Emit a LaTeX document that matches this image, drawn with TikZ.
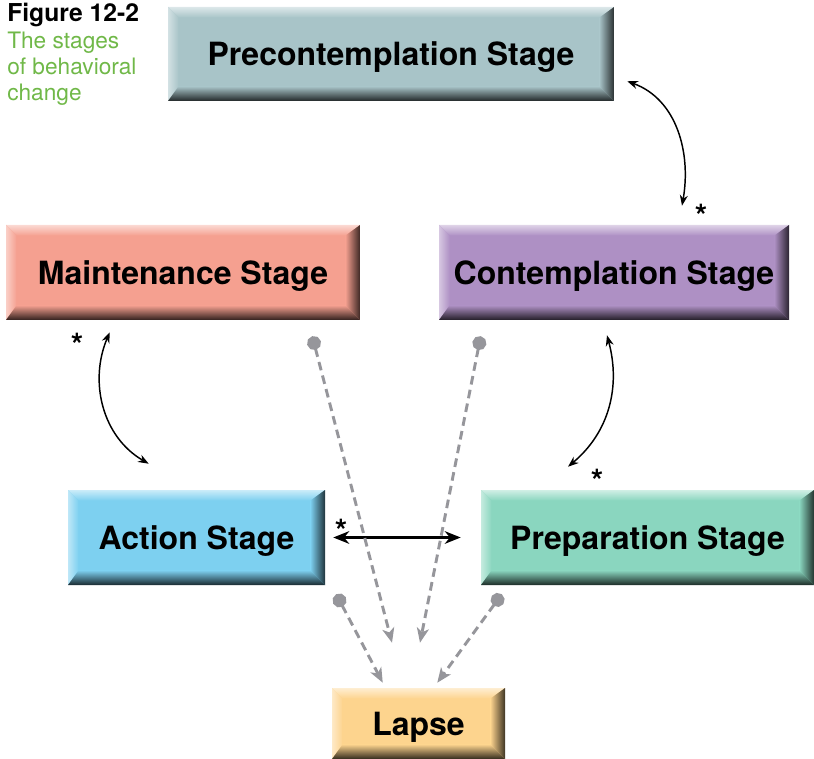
\documentclass[tikz,border=0pt]{standalone}
\usepackage{fontspec}
\setmainfont{TeX Gyre Heros}
\usetikzlibrary{arrows.meta}

\definecolor{precol}{HTML}{A8C4C8}
\definecolor{maintcol}{HTML}{F5A090}
\definecolor{contcol}{HTML}{AE90C4}
\definecolor{actcol}{HTML}{7DD0F0}
\definecolor{prepcol}{HTML}{8AD6BF}
\definecolor{lapsecol}{HTML}{FDD48E}
\definecolor{capgreen}{RGB}{112,184,72}
\definecolor{dashgray}{RGB}{150,150,155}

% bevelled edges of a stage box
\newcommand{\stagebevel}[1]{%
  \coordinate (bnw) at (path picture bounding box.north west);
  \coordinate (bne) at (path picture bounding box.north east);
  \coordinate (bsw) at (path picture bounding box.south west);
  \coordinate (bse) at (path picture bounding box.south east);
  \coordinate (inw) at ([shift={(8pt,-8pt)}]bnw);
  \coordinate (ine) at ([shift={(-11pt,-8pt)}]bne);
  \coordinate (isw) at ([shift={(8pt,11pt)}]bsw);
  \coordinate (ise) at ([shift={(-11pt,11pt)}]bse);
  \shade[top color=#1!40!white, bottom color=#1] (bnw) -- (bne) -- (ine) -- (inw) -- cycle;
  \shade[left color=#1!50!white, right color=#1] (bnw) -- (inw) -- (isw) -- (bsw) -- cycle;
  \shade[left color=#1, right color=#1!25!black] (bne) -- (bse) -- (ise) -- (ine) -- cycle;
  \shade[top color=#1, bottom color=#1!20!black] (bsw) -- (bse) -- (ise) -- (isw) -- cycle;
}

\begin{document}
\begin{tikzpicture}[
    x=0.75pt, y=-0.75pt,
    stage/.style={
        fill=#1,
        inner sep=0pt,
        text depth=0pt,
        font=\fontsize{24}{28}\selectfont\bfseries,
        path picture={\stagebevel{#1}}
    },
    swap/.style={
        {Stealth[length=8pt,width=6pt]}-{Stealth[length=8pt,width=6pt]},
        line width=1.1pt
    },
    relapse/.style={
        {Circle[length=10.5pt]}-{Stealth[length=11pt,width=9pt,inset=3pt]},
        dashgray,
        line width=2.2pt,
        dash pattern=on 6.5pt off 4pt
    },
    star/.style={
        inner sep=0pt,
        font=\fontsize{24}{24}\selectfont\bfseries
    }
]
\useasboundingbox (0,0) rectangle (814,759);

% Caption
\node[anchor=base west, inner sep=0pt, font=\fontsize{18.5}{22}\selectfont\bfseries] (figtitle) at (7,22) {Figure 12-2};
\node[anchor=north west, inner sep=0pt, align=left, text=capgreen,
      font=\fontsize{17}{19.5}\selectfont] (figcaption) at (7,31.5) {The stages\\of behavioral\\change};

% Stages
\node[stage=precol, minimum width=334.5pt, minimum height=70.5pt] (pre) at (391,54) {Precontemplation Stage};
\node[stage=maintcol, minimum width=265.5pt, minimum height=71.25pt] (maint) at (183,272.5) {Maintenance Stage};
\node[stage=contcol, minimum width=262.5pt, minimum height=71.25pt] (cont) at (614,272.5) {Contemplation Stage};
\node[stage=actcol, minimum width=192.75pt, minimum height=71.25pt] (action) at (196.5,537.5) {Action Stage};
\node[stage=prepcol, minimum width=249.75pt, minimum height=71.25pt] (prep) at (647.5,537.5) {Preparation Stage};
\node[stage=lapsecol, minimum width=129.75pt, minimum height=53.25pt] (lapse) at (418.5,723.5) {Lapse};

% Movement between stages
\draw[swap] ([shift={(13,-20)}]pre.south east) to[out=-20, in=80] ([shift={(68,-19)}]cont.north);
\draw[swap] ([shift={(-7,15)}]cont.south) to[out=-75, in=40] ([shift={(-79.5,-23)}]prep.north);
\draw[swap] ([shift={(104,12)}]maint.south west) to[out=247, in=150] ([shift={(81,-26)}]action.north west);
\draw[{Stealth[length=12pt,width=9.5pt]}-{Stealth[length=12pt,width=9.5pt]}, line width=1.8pt]
    ([xshift=6]action.east) -- ([xshift=-15]prep.west);

\node[star] (star1) at (701,216) {*};
\node[star] (star2) at (77,345) {*};
\node[star] (star3) at (597,481) {*};
\node[star] (star4) at (341,531) {*};

% Lapses
\draw[relapse] ([shift={(-48,16)}]maint.south east) -- ([shift={(-26.5,-45)}]lapse.north);
\draw[relapse] ([shift={(42,16)}]cont.south west) -- ([shift={(1.5,-45)}]lapse.north);
\draw[relapse] ([shift={(11,9)}]action.south east) -- ([shift={(51,-5)}]lapse.north west);
\draw[relapse] ([shift={(21,9)}]prep.south west) -- ([shift={(-68,-5)}]lapse.north east);

\end{tikzpicture}
\end{document}
